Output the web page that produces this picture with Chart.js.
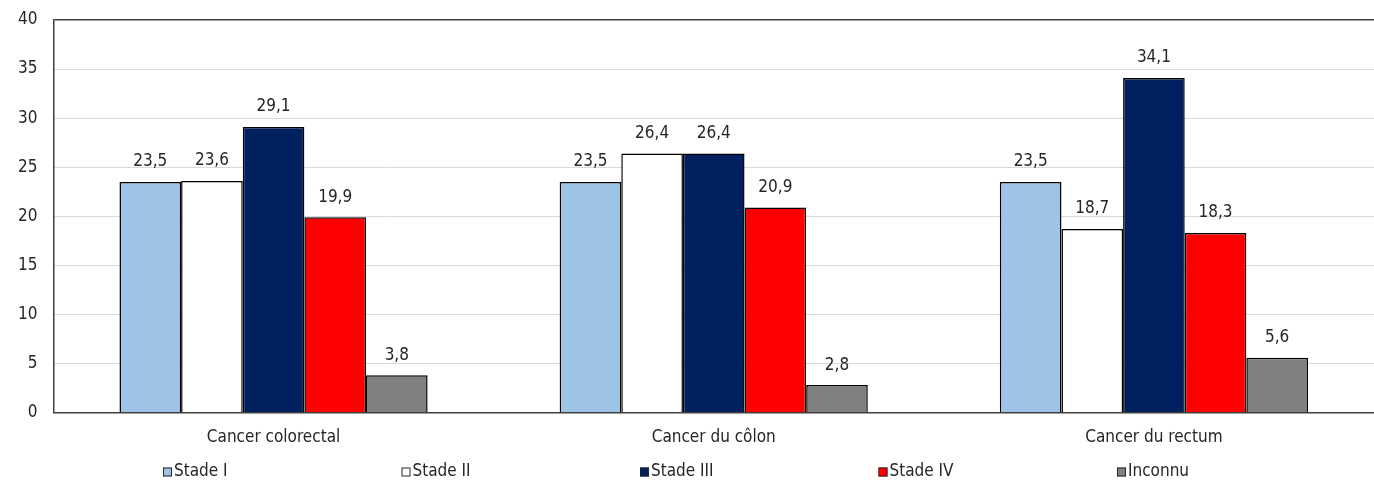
<!DOCTYPE html>
<html>
<head>
<meta charset="utf-8">
<script src="https://cdn.jsdelivr.net/npm/chart.js@4"></script>
<style>
  html, body { margin: 0; padding: 0; background: #fff; overflow: hidden; }
  #wrap { width: 1374px; height: 481px; }
</style>
</head>
<body>
<div id="wrap"><canvas id="stadesChart"></canvas></div>
<script>
const categories = ['Cancer colorectal', 'Cancer du côlon', 'Cancer du rectum'];
const stadeI = [23.5, 23.5, 23.5];
const stadeII = [23.6, 26.4, 18.7];
const stadeIII = [29.1, 26.4, 34.1];
const stadeIV = [19.9, 20.9, 18.3];
const inconnu = [3.8, 2.8, 5.6];

const fontFamily = "'DejaVu Sans Condensed', 'Liberation Sans', sans-serif";
const textColor = '#262626';
const fontSize = 17;

Chart.defaults.font.family = fontFamily;
Chart.defaults.font.size = fontSize;
Chart.defaults.color = textColor;

// value labels above each bar, comma as decimal separator
const barValueLabels = {
    id: 'barValueLabels',
    afterDatasetsDraw(chart) {
        const ctx = chart.ctx;
        ctx.save();
        ctx.font = fontSize + 'px ' + fontFamily;
        ctx.fillStyle = textColor;
        ctx.textAlign = 'center';
        ctx.textBaseline = 'middle';
        chart.data.datasets.forEach((ds, i) => {
            chart.getDatasetMeta(i).data.forEach((bar, j) => {
                const txt = ds.data[j].toFixed(1).replace('.', ',');
                ctx.fillText(txt, bar.x, bar.y - 20);
            });
        });
        ctx.restore();
    }
};

// Excel-like legend: evenly spaced slots along the bottom
const slotLegend = {
    id: 'slotLegend',
    afterDraw(chart) {
        const ctx = chart.ctx;
        const y = 472;
        const startX = 163;
        const slot = 238.5;
        ctx.save();
        ctx.font = fontSize + 'px ' + fontFamily;
        ctx.textBaseline = 'middle';
        ctx.textAlign = 'left';
        chart.data.datasets.forEach((ds, i) => {
            const x = startX + i * slot;
            ctx.fillStyle = ds.backgroundColor;
            ctx.fillRect(x, y - 4.5, 9, 9);
            ctx.strokeStyle = '#262626';
            ctx.lineWidth = 1;
            ctx.strokeRect(x + 0.5, y - 4, 8, 8);
            ctx.fillStyle = textColor;
            ctx.fillText(ds.label, x + 11, y);
        });
        ctx.restore();
    }
};

const ctx = document.getElementById('stadesChart').getContext('2d');

new Chart(ctx, {
    type: 'bar',
    data: {
        labels: categories,
        datasets: [
            { label: 'Stade I', data: stadeI, backgroundColor: '#9DC3E6' },
            { label: 'Stade II', data: stadeII, backgroundColor: '#FFFFFF' },
            { label: 'Stade III', data: stadeIII, backgroundColor: '#002060' },
            { label: 'Stade IV', data: stadeIV, backgroundColor: '#FF0000' },
            { label: 'Inconnu', data: inconnu, backgroundColor: '#808080' }
        ].map(ds => Object.assign(ds, {
            borderColor: '#000000',
            borderWidth: 1.5,
            categoryPercentage: 0.7,
            barPercentage: 1.0
        }))
    },
    options: {
        responsive: true,
        maintainAspectRatio: false,
        animation: false,
        layout: { padding: { top: 20, left: 2, right: 0, bottom: 18 } },
        plugins: {
            legend: { display: false },
            tooltip: { enabled: false }
        },
        scales: {
            x: {
                grid: { display: false, drawTicks: false },
                border: { display: true, color: '#404040', width: 1.5 },
                ticks: { padding: 15 }
            },
            y: {
                min: 0,
                max: 40,
                ticks: { stepSize: 5, autoSkip: false, padding: 16 },
                afterFit: (scale) => { scale.paddingTop = 0; },
                grid: {
                    drawTicks: false,
                    color: (c) => (c.tick && (c.tick.value === 40 || c.tick.value === 0)) ? '#404040' : '#D9D9D9',
                    lineWidth: (c) => (c.tick && c.tick.value === 40) ? 1.5 : 1
                },
                border: { display: true, color: '#404040', width: 1.5 }
            }
        }
    },
    plugins: [barValueLabels, slotLegend]
});
</script>
</body>
</html>
